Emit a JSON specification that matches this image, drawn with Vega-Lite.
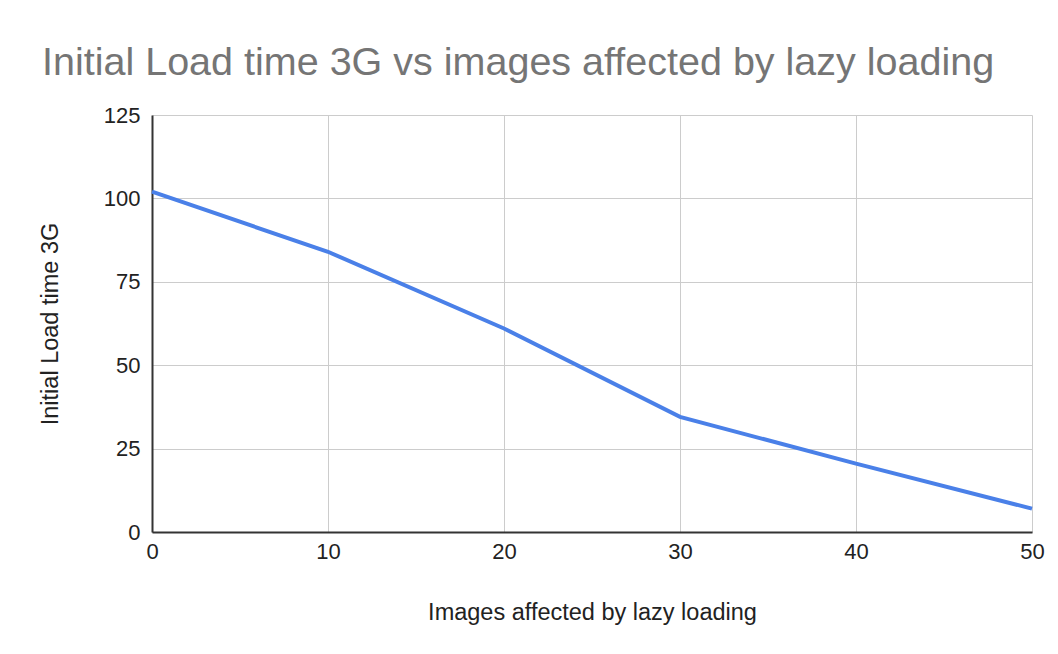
{
  "$schema": "https://vega.github.io/schema/vega-lite/v6.json",
  "width": 880,
  "height": 417,
  "autosize": {"type": "none"},
  "padding": {"left": 152, "top": 115, "right": 26, "bottom": 122},
  "background": "white",
  "title": {
    "text": "Initial Load time 3G vs images affected by lazy loading",
    "anchor": "start",
    "frame": "group",
    "dx": -110,
    "offset": 40,
    "dy": 50,
    "baseline": "alphabetic",
    "font": "Liberation Sans",
    "fontSize": 39.5,
    "fontWeight": "normal",
    "color": "#757575"
  },
  "data": {
    "values": [
      {"images": 0, "load": 102},
      {"images": 10, "load": 84},
      {"images": 20, "load": 61},
      {"images": 30, "load": 34.5},
      {"images": 40, "load": 20.5},
      {"images": 50, "load": 7}
    ]
  },
  "mark": {"type": "line", "color": "#4a80e8", "strokeWidth": 4},
  "encoding": {
    "x": {
      "field": "images",
      "type": "quantitative",
      "scale": {"domain": [0, 50], "nice": false},
      "axis": {
        "title": "Images affected by lazy loading",
        "values": [0, 10, 20, 30, 40, 50],
        "titlePadding": 38
      }
    },
    "y": {
      "field": "load",
      "type": "quantitative",
      "scale": {"domain": [0, 125], "nice": false},
      "axis": {
        "title": "Initial Load time 3G",
        "values": [0, 25, 50, 75, 100, 125],
        "titlePadding": 41
      }
    }
  },
  "config": {
    "view": {"stroke": null},
    "font": "Liberation Sans",
    "axis": {
      "labelFont": "Liberation Sans",
      "labelFontSize": 22,
      "labelColor": "#222222",
      "labelFlush": false,
      "titleFont": "Liberation Sans",
      "titleFontSize": 23.5,
      "titleFontWeight": "normal",
      "titleColor": "#222222",
      "ticks": false,
      "domainColor": "#333333",
      "domainWidth": 2,
      "gridColor": "#cccccc",
      "gridWidth": 1,
      "gridOpacity": 1
    },
    "axisX": {"labelPadding": 9},
    "axisY": {"labelPadding": 12}
  }
}
